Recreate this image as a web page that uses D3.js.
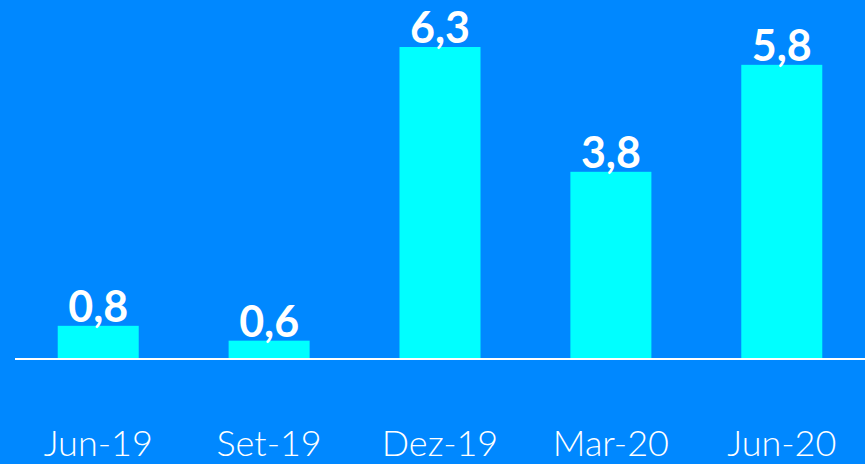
<!DOCTYPE html>
<html>
<head>
<meta charset="utf-8">
<script src="https://cdn.jsdelivr.net/npm/d3@7"></script>
<style>
  html, body { margin: 0; padding: 0; background: #0088ff; }
  svg { display: block; }
</style>
</head>
<body>
<div id="chart"></div>
<script>
// categories and values
var categories = ['Jun-19', 'Set-19', 'Dez-19', 'Mar-20', 'Jun-20'];
var values = [0.67, 0.37, 6.3, 3.78, 5.94];   // bar heights as drawn
var labels = ['0,8', '0,6', '6,3', '3,8', '5,8']; // printed data labels

var width = 865, height = 464;
var baseY = 359;

var svg = d3.select('#chart')
  .append('svg')
  .attr('width', width).attr('height', height);

svg.append('rect')
  .attr('width', width).attr('height', height)
  .attr('fill', '#0088ff');

var x = d3.scaleBand()
  .domain(categories)
  .range([15, 865])
  .paddingInner(0.526)
  .paddingOuter(0.25);

var y = d3.scaleLinear()
  .domain([0, 6.3])
  .range([baseY, 47]);

svg.selectAll('rect.bar')
  .data(values)
  .enter().append('rect')
  .attr('class', 'bar')
  .attr('x', function (d, i) { return x(categories[i]); })
  .attr('y', function (d) { return y(d); })
  .attr('width', x.bandwidth())
  .attr('height', function (d) { return baseY - y(d); })
  .attr('fill', '#00ffff');

// baseline
svg.append('line')
  .attr('x1', 15).attr('x2', width)
  .attr('y1', baseY).attr('y2', baseY)
  .attr('stroke', '#ffffff').attr('stroke-width', 2);

// data labels
svg.selectAll('text.val')
  .data(values)
  .enter().append('text')
  .attr('class', 'val')
  .attr('x', function (d, i) { return x(categories[i]) + x.bandwidth() / 2; })
  .attr('y', function (d) { return y(d) - 4; })
  .attr('text-anchor', 'middle')
  .attr('font-family', 'Lato, "DejaVu Sans", sans-serif')
  .attr('font-weight', 'bold')
  .attr('font-size', 43)
  .attr('fill', '#ffffff')
  .text(function (d, i) { return labels[i]; });

// category axis, no line and no ticks
var xAxis = svg.append('g')
  .attr('transform', 'translate(0,' + 456 + ')')
  .call(d3.axisBottom(x).tickSize(0).tickPadding(0));
xAxis.select('.domain').remove();
xAxis.selectAll('text')
  .attr('dy', 0)
  .attr('font-family', 'Lato, "DejaVu Sans", sans-serif')
  .attr('font-weight', 300)
  .attr('font-size', 36)
  .attr('fill', '#ffffff');
</script>
</body>
</html>
